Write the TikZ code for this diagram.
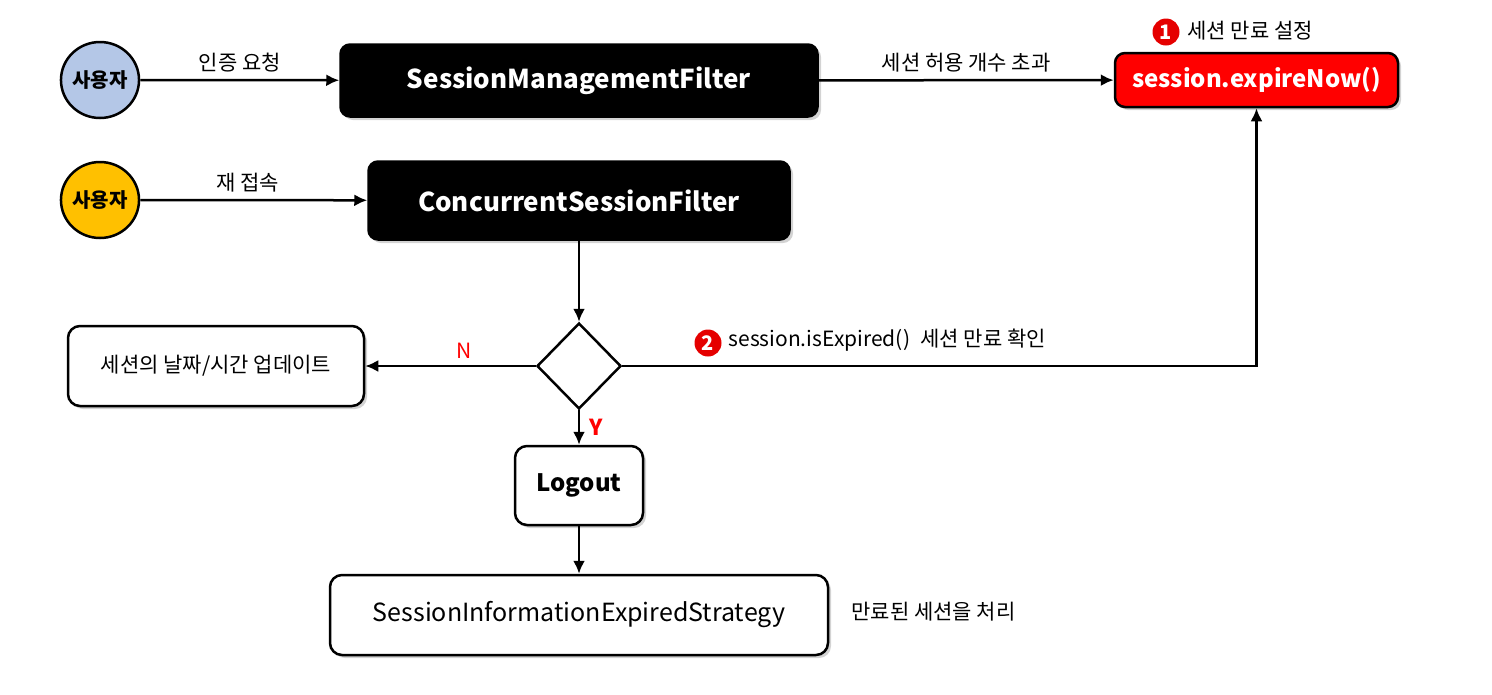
\documentclass[tikz,border=0pt]{standalone}
\usepackage{fontspec}
\setmainfont{Noto Sans CJK KR}
\usepackage{xcolor}
\usepackage{tikz}
\usetikzlibrary{shapes,arrows.meta,shadows}
\definecolor{userblue}{HTML}{B4C7E7}
\definecolor{usergold}{HTML}{FFC000}
\definecolor{badgered}{HTML}{E50000}

\tikzset{
  filterbox/.style={draw, line width=1.5pt, fill=black, text=white, rounded corners=10pt,
    font=\fontsize{26}{30}\selectfont\bfseries, drop shadow={opacity=0.35, shadow xshift=3pt, shadow yshift=-3pt}},
  plainbox/.style={draw, line width=2.5pt, fill=white, rounded corners=12pt,
    drop shadow={opacity=0.35, shadow xshift=3pt, shadow yshift=-3pt}},
  user/.style={draw, line width=2.5pt, ellipse, minimum width=72pt, minimum height=76pt, inner sep=0pt,
    font=\fontsize{20}{24}\selectfont\bfseries},
  badge/.style={circle, fill=badgered, text=white, inner sep=0pt, minimum size=27pt,
    font=\fontsize{20}{22}\selectfont\bfseries},
  lbl/.style={font=\fontsize{21}{25}\selectfont},
  flow/.style={line width=2.5pt, -{Latex[length=13pt,width=12pt]}},
}

\begin{document}
\begin{tikzpicture}[x=1pt, y=-1pt]
      \useasboundingbox (0,0) rectangle (1492,694);

      % Users
      \node[user, fill=userblue] (userA) at (100,80) {사용자};
      \node[user, fill=usergold] (userB) at (100,200) {사용자};

      % Filters
      \node[filterbox, minimum width=478pt, minimum height=73pt] (smf) at (579,80.5) {SessionManagementFilter};
      \node[filterbox, minimum width=422pt, minimum height=79pt] (csf) at (579,200.5) {ConcurrentSessionFilter};

      % Expire box
      \node[draw, line width=2.5pt, fill=red, text=white, rounded corners=10pt, minimum width=283pt, minimum height=54pt,
        font=\fontsize{24}{28}\selectfont\bfseries, drop shadow={opacity=0.35, shadow xshift=3pt, shadow yshift=-3pt}]
        (expire) at (1256.5,80) {session.expireNow()};
      \node[badge] (badgeA) at (1166,32) {1};
      \node[lbl, anchor=west] (setlbl) at (1184,31) {세션 만료 설정};

      % Decision
      \node[draw, line width=2.5pt, diamond, minimum width=84pt, minimum height=86pt, inner sep=0pt] (check) at (579,366) {};
      \node[badge] (badgeB) at (708,343) {2};
      \node[lbl, anchor=west] (chklbl) at (725,340) {session.isExpired()\enspace 세션 만료 확인};

      % Result boxes
      \node[plainbox, minimum width=296pt, minimum height=80pt, font=\fontsize{21}{25}\selectfont] (update) at (216,366) {세션의 날짜/시간 업데이트};
      \node[plainbox, minimum width=128pt, minimum height=79pt, font=\fontsize{24}{28}\selectfont\bfseries] (logout) at (579,485.5) {Logout};
      \node[plainbox, minimum width=498pt, minimum height=80pt, font=\fontsize{25}{29}\selectfont] (sies) at (579,615) {SessionInformationExpiredStrategy};
      \node[lbl, anchor=west] (endlbl) at (848,612) {만료된 세션을 처리};

      % Connectors
      \draw[flow] (userA) -- node[lbl, above=3pt] {인증 요청} (smf);
      \draw[flow] (userB) -- node[lbl, above=3pt, xshift=-6pt] {재 접속} (csf);
      \draw[flow] (smf) -- node[lbl, above=3pt] {세션 허용 개수 초과} (expire);
      \draw[flow] (csf) -- (check);
      \draw[flow] (check.west) -- node[lbl, above=3pt, text=red, pos=0.42] {N} (update);
      \draw[flow] (check.east) -| (expire.south);
      \draw[flow] (check.south) -- node[lbl, right=6pt, text=red, font=\fontsize{22}{26}\selectfont\bfseries] {Y} (logout);
      \draw[flow] (logout) -- (sies);
    \end{tikzpicture}
\end{document}
